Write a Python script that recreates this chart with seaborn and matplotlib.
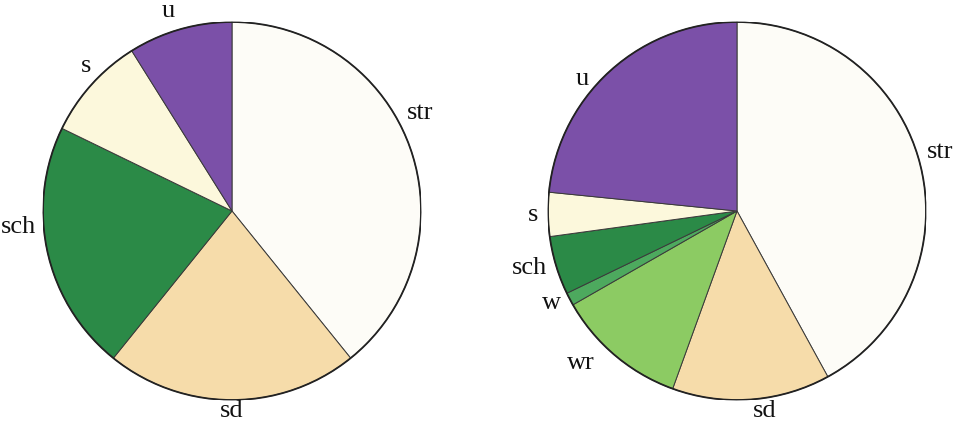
import numpy as np
import matplotlib
matplotlib.use("Agg")
import matplotlib.pyplot as plt
import seaborn as sns

sns.set_theme(style="white")
plt.rcParams['font.family'] = ['Liberation Serif', 'DejaVu Serif']

# left pie (clockwise from 12 o'clock)
left_labels = ["str", "sd", "sch", "s", "u"]
left_values = [39.2, 21.6, 21.4, 8.9, 8.9]

# right pie
right_labels = ["str", "sd", "wr", "w", "sch", "s", "u"]
right_values = [42.0, 13.5, 11.2, 1.1, 5.0, 3.75, 23.4]

PALETTE = {
    "str": "#fdfcf7",
    "sd": "#f6dcaa",
    "sch": "#2b8a47",
    "s": "#fcf8dc",
    "u": "#7b50a8",
    "wr": "#8ccb63",
    "w": "#4da95e",
}

# label nudges: (angle shift in degrees, radial distance)
LEFT_NUDGE = {"str": (10, 1.06), "sd": (0, 1.06), "sch": (-8, 1.04), "s": (-4, 1.07), "u": (0, 1.1)}
RIGHT_NUDGE = {"str": (3, 1.05), "sd": (0, 1.06), "wr": (-3, 1.1), "w": (0, 1.05),
               "sch": (0, 1.05), "s": (0, 1.05), "u": (6, 1.05)}

fig = plt.figure(figsize=(9.57, 4.26), dpi=100)
W, H = 957, 426
R = 189


def draw_pie(cx, cy, labels, values, nudge):
    ax = fig.add_axes([(cx - R) / W, (H - cy - R) / H, 2 * R / W, 2 * R / H])
    wedges, texts = ax.pie(values, labels=labels, startangle=90, counterclock=False,
                           colors=[PALETTE[l] for l in labels], labeldistance=1.05,
                           wedgeprops=dict(edgecolor="#3a3a3a", linewidth=0.7),
                           textprops=dict(fontsize=19, color="#111111"))
    # outer rim a bit darker
    ax.add_patch(plt.Circle((0, 0), 1, fill=False, edgecolor="#222222", linewidth=1.3))
    for w, t, lab in zip(wedges, texts, labels):
        shift, dist = nudge[lab]
        ang = np.deg2rad((w.theta1 + w.theta2) / 2 + shift)
        t.set_position((dist * np.cos(ang), dist * np.sin(ang)))
        t.set_ha("left" if np.cos(ang) > 0.05 else ("right" if np.cos(ang) < -0.05 else "center"))
    ax.set_xlim(-1, 1)
    ax.set_ylim(-1, 1)
    ax.set_aspect("equal")
    ax.axis("off")
    return ax


draw_pie(232, 211, left_labels, left_values, LEFT_NUDGE)
draw_pie(737, 211, right_labels, right_values, RIGHT_NUDGE)

fig.savefig("out.png", dpi=100)
